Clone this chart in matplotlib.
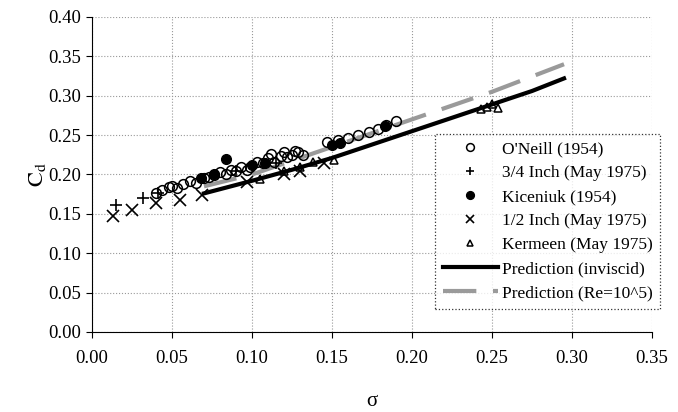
import numpy as np
import matplotlib.pyplot as plt

# O'Neill (1954) - open circles
oneill_s = [0.040, 0.044, 0.048, 0.050, 0.053, 0.057, 0.061, 0.065, 0.070, 0.073,
            0.076, 0.080, 0.084, 0.087, 0.090, 0.093, 0.097, 0.099, 0.103, 0.107,
            0.110, 0.114, 0.118, 0.122, 0.125, 0.129, 0.132, 0.112, 0.120, 0.127,
            0.147, 0.154, 0.160, 0.166, 0.173, 0.179, 0.184, 0.190]
oneill_c = [0.176, 0.180, 0.184, 0.185, 0.183, 0.188, 0.192, 0.189, 0.195, 0.197,
            0.199, 0.203, 0.200, 0.206, 0.204, 0.209, 0.206, 0.209, 0.216, 0.214,
            0.221, 0.216, 0.223, 0.222, 0.225, 0.228, 0.225, 0.226, 0.229, 0.230,
            0.241, 0.244, 0.246, 0.250, 0.254, 0.258, 0.263, 0.268]

# 3/4 Inch (May 1975) - plus
three4_s = [0.015, 0.032, 0.041, 0.090, 0.115]
three4_c = [0.161, 0.170, 0.176, 0.205, 0.215]

# Kiceniuk (1954) - filled circles
kic_s = [0.068, 0.076, 0.084, 0.100, 0.108, 0.150, 0.155, 0.183]
kic_c = [0.196, 0.200, 0.220, 0.212, 0.215, 0.238, 0.240, 0.262]

# 1/2 Inch (May 1975) - x
half_s = [0.013, 0.025, 0.040, 0.055, 0.069, 0.097, 0.120, 0.130, 0.145]
half_c = [0.147, 0.155, 0.164, 0.167, 0.174, 0.190, 0.200, 0.205, 0.214]

# Kermeen (May 1975) - triangles
ker_s = [0.105, 0.120, 0.130, 0.138, 0.151, 0.243, 0.247, 0.250, 0.254]
ker_c = [0.194, 0.205, 0.210, 0.216, 0.219, 0.283, 0.286, 0.289, 0.285]

# Predictions
inv_s = [0.070, 0.100, 0.125, 0.150, 0.175, 0.200, 0.225, 0.250, 0.275, 0.295]
inv_c = [0.176, 0.192, 0.206, 0.221, 0.238, 0.255, 0.272, 0.289, 0.306, 0.322]
re_s = [0.070, 0.100, 0.150, 0.200, 0.250, 0.295]
re_c = [0.185, 0.200, 0.235, 0.270, 0.305, 0.340]

plt.rcParams['font.family'] = ['Liberation Serif', 'DejaVu Serif']
plt.rcParams['mathtext.fontset'] = 'stix'

fig = plt.figure(figsize=(6.78, 4.12), dpi=100)
ax = fig.add_axes([0.1357, 0.1942, 0.826, 0.7646])

ax.plot(oneill_s, oneill_c, 'o', mfc='none', mec='black', ms=7, mew=1.1,
        label="O'Neill (1954)", zorder=3)
ax.plot(three4_s, three4_c, '+', color='black', ms=8, mew=1.2,
        label='3/4 Inch (May 1975)', zorder=3)
ax.plot(kic_s, kic_c, 'o', color='black', ms=7,
        label='Kiceniuk (1954)', zorder=3)
ax.plot(half_s, half_c, 'x', color='black', ms=8, mew=1.2,
        label='1/2 Inch (May 1975)', zorder=3)
ax.plot(ker_s, ker_c, '^', mfc='none', mec='black', ms=6, mew=1.1,
        label='Kermeen (May 1975)', zorder=3)
ax.plot(inv_s, inv_c, '-', color='black', lw=3,
        label='Prediction (inviscid)', zorder=2)
ax.plot(re_s, re_c, color='#9a9a9a', lw=3, dashes=(8, 4),
        label='Prediction (Re=10^5)', zorder=1)

ax.set_xlim(0, 0.35)
ax.set_ylim(0, 0.40)
ax.set_xticks(np.arange(0, 0.351, 0.05))
ax.set_yticks(np.arange(0, 0.401, 0.05))
ax.xaxis.set_major_formatter(plt.FormatStrFormatter('%.2f'))
ax.yaxis.set_major_formatter(plt.FormatStrFormatter('%.2f'))
ax.tick_params(labelsize=13.5, direction='out', length=4, width=0.8)
ax.tick_params(axis='x', pad=9)
ax.tick_params(axis='y', pad=4)
ax.grid(True, linestyle=':', color='#999999', linewidth=0.8)
ax.spines['top'].set_visible(False)
ax.spines['right'].set_visible(False)

ax.set_xlabel('σ', fontsize=15, labelpad=18)
ax.set_ylabel(r'$\mathrm{C_d}$', fontsize=16, labelpad=0)

leg = ax.legend(loc='upper left', bbox_to_anchor=(0.612, 0.63), fontsize=12.5,
                frameon=True, fancybox=False, edgecolor='black', markerscale=0.8,
                handlelength=3.2, handletextpad=0.2, labelspacing=0.45,
                borderpad=0.45, borderaxespad=0)
leg.get_frame().set_linestyle(':')
leg.get_frame().set_linewidth(0.9)

fig.savefig('out.png', dpi=100)
